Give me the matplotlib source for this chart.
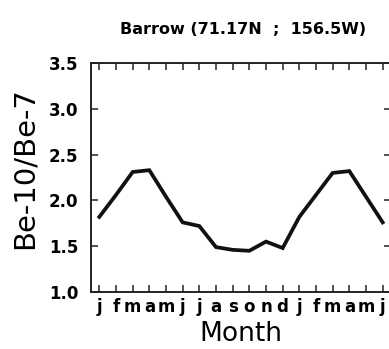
import matplotlib
matplotlib.use("Agg")
import matplotlib.pyplot as plt
import numpy as np

months = ["j", "f", "m", "a", "m", "j", "j", "a", "s", "o", "n", "d",
          "j", "f", "m", "a", "m", "j"]
ratio = [1.82, 2.06, 2.31, 2.33, 2.04, 1.76, 1.72, 1.49, 1.46, 1.45, 1.55, 1.48,
         1.82, 2.06, 2.30, 2.32, 2.04, 1.76]
yticks = [1.0, 1.5, 2.0, 2.5, 3.0, 3.5]
title = "Barrow (71.17N  ;  156.5W)"

plt.rcParams['font.family'] = ['DejaVu Sans']

fig = plt.figure(figsize=(3.89, 3.49), dpi=100)
ax = fig.add_axes([91/389, (349-292)/349, 300/389, (292-63)/349])

x = np.arange(1, len(months) + 1)
ax.plot(x, ratio, color='#111111', lw=2.7, solid_joinstyle='miter')

ax.set_xlim(0.5, len(months) + 0.5)
ax.set_ylim(1.0, 3.5)
ax.set_xticks(x)
ax.set_xticklabels(months, fontweight='bold', fontsize=12)
ax.set_yticks(yticks)
ax.set_yticklabels([f"{v:.1f}" for v in yticks], fontweight='bold', fontsize=12)

ax.tick_params(axis='both', direction='in', length=5, width=1.1,
               top=True, right=True, color='#222222')
ax.tick_params(axis='x', pad=4)
ax.tick_params(axis='y', pad=9)
for s in ax.spines.values():
    s.set_linewidth(1.4)
    s.set_color('#222222')

ax.set_xlabel("Month", fontsize=19, labelpad=4)
ax.set_ylabel("Be-10/Be-7", fontsize=21)
ax.yaxis.set_label_coords(-0.175, 0.54)
fig.text(243/389, 1 - 29/349, title, ha='center', va='center',
         fontsize=11.5, fontweight='bold')

fig.savefig("out.png", dpi=100)
